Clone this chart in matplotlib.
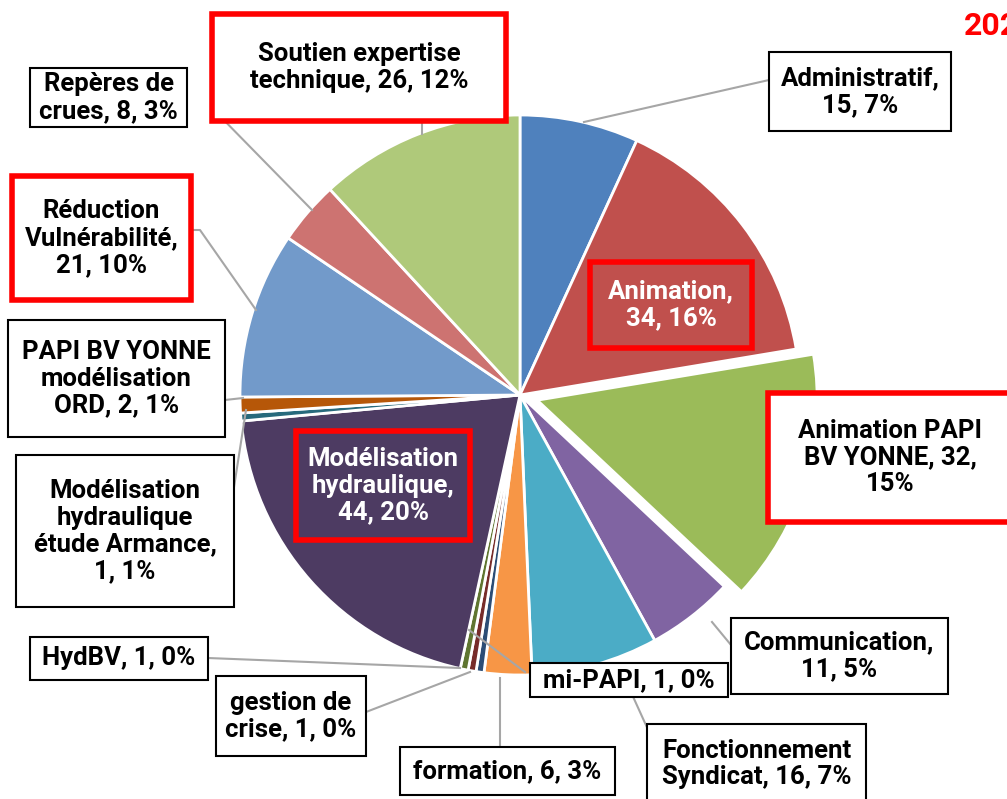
import matplotlib.pyplot as plt
from matplotlib.patches import Rectangle

W, H = 1007, 799

categories = ["Administratif", "Animation", "Animation PAPI BV YONNE", "Communication",
              "Fonctionnement Syndicat", "formation", "mi-PAPI", "gestion de crise", "HydBV",
              "Modélisation hydraulique", "Modélisation hydraulique étude Armance",
              "PAPI BV YONNE modélisation ORD", "Réduction Vulnérabilité",
              "Repères de crues", "Soutien expertise technique"]
values = [15, 34, 32, 11, 16, 6, 1, 1, 1, 44, 1, 2, 21, 8, 26]
labels = ["Administratif,\n15, 7%", "Animation,\n34, 16%", "Animation PAPI\nBV YONNE, 32,\n15%",
          "Communication,\n11, 5%", "Fonctionnement\nSyndicat, 16, 7%", "formation, 6, 3%",
          "mi-PAPI, 1, 0%", "gestion de\ncrise, 1, 0%", "HydBV, 1, 0%",
          "Modélisation\nhydraulique,\n44, 20%", "Modélisation\nhydraulique\nétude Armance,\n1, 1%",
          "PAPI BV YONNE\nmodélisation\nORD, 2, 1%", "Réduction\nVulnérabilité,\n21, 10%",
          "Repères de\ncrues, 8, 3%", "Soutien expertise\ntechnique, 26, 12%"]
colors = ["#4F81BD", "#C0504D", "#9BBB59", "#8064A2", "#4BACC6", "#F79646", "#2C4D75",
          "#772C2A", "#5F7530", "#4D3B62", "#276A7C", "#B65708", "#729ACA", "#CD7371", "#AFC97A"]
highlighted = ["Animation", "Animation PAPI BV YONNE", "Modélisation hydraulique",
               "Réduction Vulnérabilité", "Soutien expertise technique"]
inside = ["Animation", "Modélisation hydraulique"]

# label boxes in pixel coords (x0, y0, x1, y1), top-left origin
boxes = {
    "Administratif": (769, 52, 951, 131),
    "Animation": (590, 262, 752, 348),
    "Animation PAPI BV YONNE": (768, 393, 1012, 522),
    "Communication": (731, 618, 948, 694),
    "Fonctionnement Syndicat": (647, 724, 866, 804),
    "formation": (400, 747, 615, 795),
    "mi-PAPI": (530, 663, 728, 697),
    "gestion de crise": (216, 676, 366, 756),
    "HydBV": (30, 637, 208, 680),
    "Modélisation hydraulique": (296, 431, 470, 540),
    "Modélisation hydraulique étude Armance": (16, 455, 234, 607),
    "PAPI BV YONNE modélisation ORD": (8, 320, 225, 437),
    "Réduction Vulnérabilité": (12, 176, 191, 300),
    "Repères de crues": (30, 68, 187, 127),
    "Soutien expertise technique": (212, 14, 506, 121),
}
leaders = {
    "Administratif": [(769, 80), (584, 122)],
    "Repères de crues": [(212, 108), (312, 210)],
    "Soutien expertise technique": [(422, 121), (422, 134)],
    "Réduction Vulnérabilité": [(191, 230), (200, 230), (256, 310)],
    "PAPI BV YONNE modélisation ORD": [(225, 400), (243, 398)],
    "Modélisation hydraulique étude Armance": [(232, 500), (246, 410)],
    "HydBV": [(208, 658), (460, 668)],
    "gestion de crise": [(366, 712), (470, 672)],
    "formation": [(500, 747), (500, 678)],
    "mi-PAPI": [(469, 630), (525, 672)],
    "Fonctionnement Syndicat": [(620, 668), (655, 745)],
    "Communication": [(731, 645), (712, 622)],
}

fig = plt.figure(figsize=(W / 100, H / 100), dpi=100)
ax = fig.add_axes([0, 0, 1, 1])

# explode offset is in data units (pixels here)
explode = [18 if c == "Animation PAPI BV YONNE" else 0 for c in categories]
ax.pie(values, colors=colors, startangle=90, counterclock=False, explode=explode,
       center=(520, H - 395), radius=280, frame=True,
       wedgeprops=dict(edgecolor="white", linewidth=2))
ax.set_xlim(0, W)
ax.set_ylim(0, H)
ax.set_aspect("equal")
ax.axis("off")

for cat, pts in leaders.items():
    ax.plot([p[0] for p in pts], [H - p[1] for p in pts], color="#A6A6A6", lw=1.5, zorder=3)

for cat, lab in zip(categories, labels):
    x0, y0, x1, y1 = boxes[cat]
    red = cat in highlighted
    ins = cat in inside
    ax.add_patch(Rectangle((x0, H - y1), x1 - x0, y1 - y0,
                           facecolor="none" if ins else "white",
                           edgecolor="#FF0000" if red else "black",
                           lw=4 if red else 1.5, zorder=4, clip_on=False))
    ax.text((x0 + x1) / 2, H - (y0 + y1) / 2, lab, ha="center", va="center",
            fontsize=18.5, fontweight="bold", family="Roboto", linespacing=1.15,
            color="white" if ins else "black", zorder=5)

# title is cut off at the right edge, as in the source image
ax.text(964, H - 26, "2020", color="#FF0000", fontsize=23, fontweight="bold",
        family="Roboto", ha="left", va="center")

fig.savefig("out.png", dpi=100)
